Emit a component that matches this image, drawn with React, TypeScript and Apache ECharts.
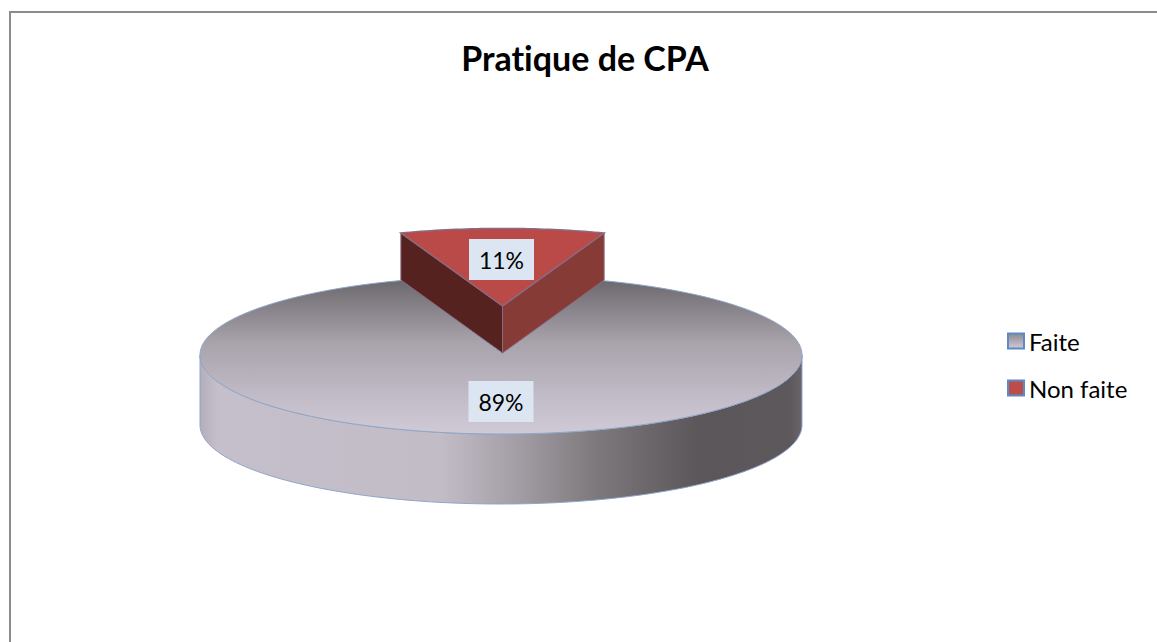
import React, { useEffect, useRef } from "react";
import * as echarts from "echarts";

const categories = ["Faite", "Non faite"];
const values = [89, 11];
const titleText = "Pratique de CPA";

const FONT = "Lato, Carlito, 'Open Sans', sans-serif";
const W = 1157;
const H = 642;
const disc = { cx: 501, cy: 355, rx: 301, ry: 79, depth: 70 };
const wedge = { cx: 502.5, cy: 306, rx: 300, ry: 77.6, depth: 47 };
const edge = "#8ea6c9";
const labelBox = { w: 65, h: 41 };
const notchOverlap = 0.015;

const total = values.reduce((a, b) => a + b, 0);

const pt = (g: any, t: number, dy = 0) => [g.cx + g.rx * Math.sin(t), g.cy - g.ry * Math.cos(t) + dy];
const arc = (g: any, a: number, b: number, dy = 0, n = 120) => {
  const out: number[][] = [];
  for (let i = 0; i <= n; i++) out.push(pt(g, a + ((b - a) * i) / n, dy));
  return out;
};
const grad = (x2: number, y2: number, stops: [number, string][]) =>
  new echarts.graphic.LinearGradient(0, 0, x2, y2, stops.map(([offset, color]) => ({ offset, color })));

const label = (text: string, x: number, y: number) => [
  { type: "rect", shape: { x: x - labelBox.w / 2, y: y - labelBox.h / 2, width: labelBox.w, height: labelBox.h }, style: { fill: "#dce6f2" } },
  { type: "text", style: { text, x, y, align: "center", verticalAlign: "middle", font: `23px ${FONT}`, fill: "#000" } },
];

const renderFaite = (_p: any, api: any) => {
  const share = (api.value(0) / total) * Math.PI * 2;
  const start = Math.PI - share / 2;
  const front = arc(disc, Math.PI / 2, (3 * Math.PI) / 2);
  const side = [...front, ...front.map(([x, y]) => [x, y + disc.depth]).reverse()];
  const top = [[disc.cx, disc.cy - 2], ...arc(disc, start - notchOverlap, start + share + notchOverlap, 0, 240)];
  return {
    type: "group",
    children: [
      {
        type: "polygon",
        shape: { points: side },
        style: {
          fill: grad(1, 0, [[0, "#b4aeba"], [0.03, "#c5bfcb"], [0.4, "#c2bcc7"], [0.52, "#a5a0a7"], [0.66, "#7c787b"], [0.83, "#5b565a"], [0.98, "#5d585c"], [1, "#6a656a"]]),
          stroke: edge,
          lineWidth: 1,
        },
      },
      {
        type: "polygon",
        shape: { points: top },
        style: {
          fill: grad(0, 1, [[0, "#6c696e"], [0.4, "#a8a2ab"], [0.78, "#c3bdc9"], [1, "#d0cad6"]]),
          stroke: edge,
          lineWidth: 1,
        },
      },
      ...label(`${api.value(0)}%`, 501, 401.5),
    ],
  };
};

const renderNonFaite = (_p: any, api: any) => {
  const half = ((api.value(0) / total) * Math.PI * 2) / 2;
  const apex = [wedge.cx, wedge.cy];
  const apexLow = [wedge.cx, wedge.cy + wedge.depth];
  const l = pt(wedge, -half);
  const r = pt(wedge, half);
  const wall = "#8a6a80";
  return {
    type: "group",
    children: [
      {
        type: "polygon",
        shape: { points: [l, apex, apexLow, [l[0], l[1] + wedge.depth]] },
        style: { fill: "#552220", stroke: wall, lineWidth: 1 },
      },
      {
        type: "polygon",
        shape: { points: [r, apex, apexLow, [r[0], r[1] + wedge.depth]] },
        style: { fill: "#863b37", stroke: wall, lineWidth: 1 },
      },
      {
        type: "polygon",
        shape: { points: [apex, ...arc(wedge, -half, half, 0, 40)] },
        style: { fill: "#b94a48", stroke: wall, lineWidth: 1.5 },
      },
      ...label(`${api.value(0)}%`, 501.5, 259.5),
    ],
  };
};

export default function App() {
  const ref = useRef<HTMLDivElement>(null);
  useEffect(() => {
    const chart = echarts.init(ref.current!, null, { renderer: "svg" });
    chart.setOption({
      animation: false,
      backgroundColor: "#ffffff",
      title: {
        text: titleText,
        left: 580,
        top: 35,
        textAlign: "center",
        textStyle: { fontFamily: FONT, fontSize: 34, fontWeight: "bold", color: "#000" },
      },
      legend: {
        orient: "vertical",
        left: 1002,
        top: 324,
        icon: "rect",
        itemWidth: 16,
        itemHeight: 15,
        itemGap: 23,
        data: categories,
        textStyle: { fontFamily: FONT, fontSize: 24, color: "#000" },
      },
      graphic: [
        {
          type: "polyline",
          silent: true,
          shape: { points: [[10, H], [10, 12], [W, 12]] },
          style: { stroke: "#8c8c8c", lineWidth: 2, fill: "none" },
        },
      ],
      series: [
        {
          type: "custom",
          name: categories[0],
          coordinateSystem: "none",
          silent: true,
          renderItem: renderFaite,
          data: [values[0]],
          itemStyle: {
            color: grad(0, 1, [[0, "#8c888f"], [1, "#d0cad6"]]),
            borderColor: "#5b8ac6",
            borderWidth: 2,
          },
        },
        {
          type: "custom",
          name: categories[1],
          coordinateSystem: "none",
          silent: true,
          renderItem: renderNonFaite,
          data: [values[1]],
          itemStyle: { color: "#bd4d4a", borderColor: "#5b8ac6", borderWidth: 2 },
        },
      ],
    });
    return () => chart.dispose();
  }, []);
  return <div ref={ref} style={{ position: "absolute", left: 0, top: 0, width: W, height: H, fontVariantLigatures: "none" }} />;
}
